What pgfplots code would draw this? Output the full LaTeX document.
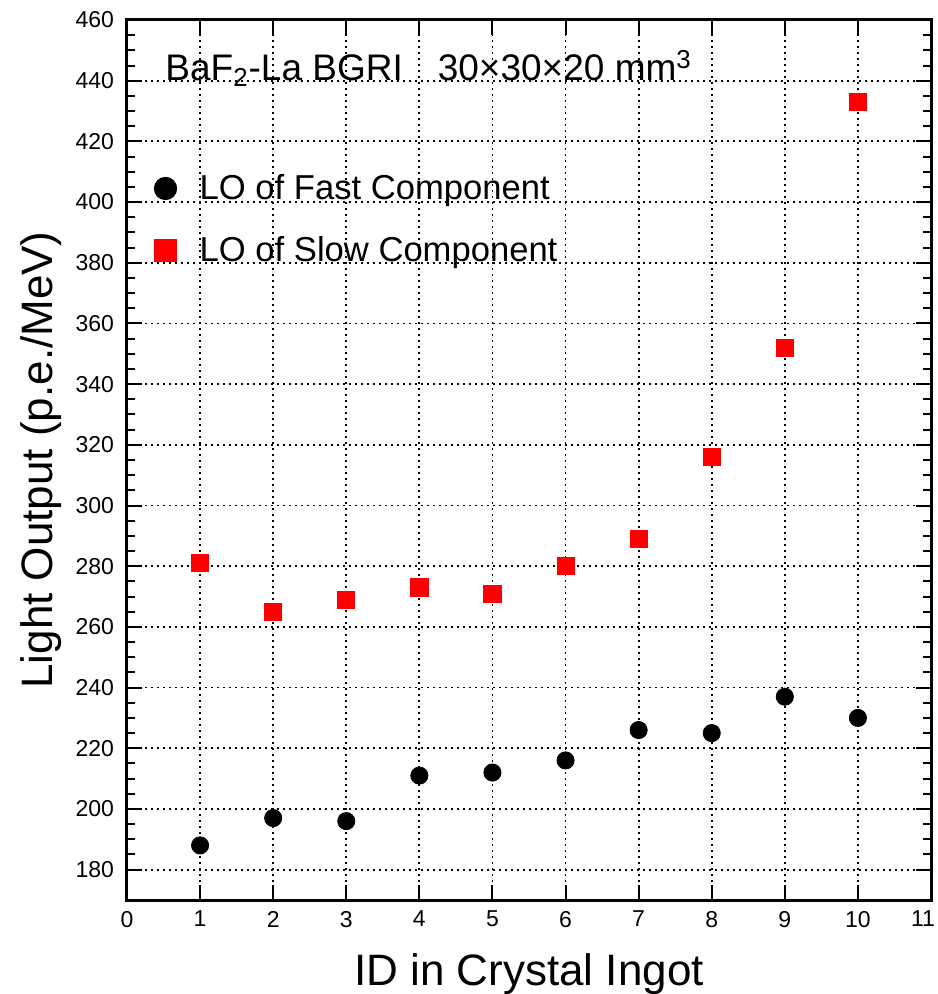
\documentclass[border=0pt]{standalone}
\usepackage{pgfplots}
\pgfplotsset{compat=1.18}
\usepackage{fontspec}
\setmainfont{Liberation Sans}
\begin{document}
\begin{tikzpicture}
\begin{axis}[
  at={(0,0)}, anchor=south west,
  scale only axis, width=402pt, height=440pt,
  xmin=0, xmax=11, ymin=170, ymax=460,
  xtick={0,...,10}, ytick={180,200,...,460},
  extra x ticks={11},
  extra x tick style={xticklabel style={xshift=-4pt}},
  minor y tick num=3,
  tick align=inside,
  major tick length=7.5pt, minor tick length=4pt,
  every tick/.style={black, line width=1pt},
  axis line style={line width=1.5pt},
  grid=major,
  grid style={black, line width=0.9pt, dash pattern=on 1.2pt off 1.8pt},
  /pgf/number format/assume math mode=true,
  ticklabel style={font=\fontsize{11.5}{13}\selectfont},
  xticklabel style={yshift=-2pt},
  yticklabel style={xshift=-3pt},
  xlabel={ID in Crystal Ingot},
  ylabel={Light Output (p.e./MeV)},
  label style={font=\fontsize{22}{26}\selectfont},
  xlabel style={at={([yshift=-42.5pt]axis description cs:0.5,0)}, anchor=base},
  ylabel style={at={([xshift=-53.5pt]axis description cs:0,0.5)}, anchor=north, inner sep=0pt},
  legend style={draw=none, fill=none, at={(axis description cs:0.026,0.834)}, anchor=north west,
    font=\fontsize{17.3}{20}\selectfont, row sep=13pt, column sep=9.5pt},
  legend cell align=left,
  legend image post style={mark size=5.6pt},
]
\addplot[only marks, mark=*, mark size=4.3pt, black] coordinates {
  (1,188) (2,197) (3,196) (4,211) (5,212) (6,216) (7,226) (8,225) (9,237) (10,230)};
\addlegendentry{LO of Fast Component}
\addplot[only marks, mark=square*, mark size=4.3pt, red, fill=red] coordinates {
  (1,281) (2,265) (3,269) (4,273) (5,271) (6,280) (7,289) (8,316) (9,352) (10,433)};
\addlegendentry{LO of Slow Component}
\node[anchor=base west, font=\fontsize{18.5}{22}\selectfont, inner sep=0pt] at (axis cs:0.52,440)
  {BaF\textsubscript{2}-La BGRI\hspace{17.5pt}30×30×20 mm\textsuperscript{3}};
\end{axis}
\pgfresetboundingbox
\path (-63.5pt,-47pt) rectangle (405pt,450pt);
\end{tikzpicture}
\end{document}
